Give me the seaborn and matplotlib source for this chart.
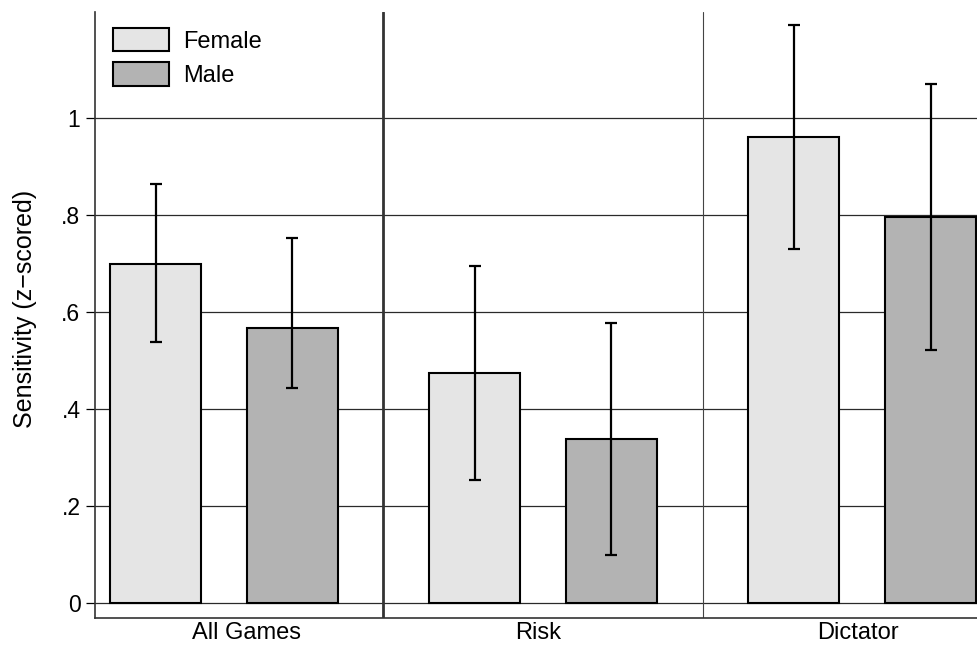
import numpy as np
import pandas as pd
import matplotlib
matplotlib.use("Agg")
import matplotlib.pyplot as plt
import seaborn as sns

# Mean sensitivity (z-scored) by game and sex, with 95% CI bounds
games = ["All Games", "Risk", "Dictator"]
sexes = ["Female", "Male"]
female_mean = [0.700, 0.475, 0.961]
female_lo = [0.538, 0.255, 0.731]
female_hi = [0.865, 0.696, 1.192]
male_mean = [0.568, 0.339, 0.796]
male_lo = [0.443, 0.100, 0.523]
male_hi = [0.753, 0.579, 1.070]
yticks = [0, 0.2, 0.4, 0.6, 0.8, 1.0]
ytick_labels = ["0", ".2", ".4", ".6", ".8", "1"]

# Layout of the bars along the x axis (in bar-width units)
group_step = 3.5
sex_offset = {"Female": 0.0, "Male": 1.5}

rows = []
for g, game in enumerate(games):
    for sex, m, lo, hi in (("Female", female_mean[g], female_lo[g], female_hi[g]),
                           ("Male", male_mean[g], male_lo[g], male_hi[g])):
        rows.append({"game": game, "sex": sex, "mean": m, "lo": lo, "hi": hi,
                     "pos": g * group_step + sex_offset[sex]})
df = pd.DataFrame(rows)

sns.set_theme(style="white")
plt.rcParams["font.family"] = ["Liberation Sans", "DejaVu Sans"]
plt.rcParams["text.color"] = "black"
plt.rcParams["axes.labelcolor"] = "black"

fig = plt.figure(figsize=(9.78, 6.45), dpi=100)
W, H = 978, 645
ax_left, ax_right, ax_top, ax_bottom = 95, 978, 11.7, 618
ax = fig.add_axes([ax_left / W, 1 - ax_bottom / H,
                   (ax_right - ax_left) / W, (ax_bottom - ax_top) / H])

palette = {"Female": "#e5e5e5", "Male": "#b3b3b3"}
sns.barplot(data=df, x="pos", y="mean", hue="sex", hue_order=sexes,
            palette=palette, native_scale=True, dodge=False,
            width=1 / 1.5, errorbar=None, edgecolor="black", linewidth=1.5,
            saturation=1, ax=ax, zorder=3)

ax.errorbar(df["pos"], df["mean"],
            yerr=[df["mean"] - df["lo"], df["hi"] - df["mean"]],
            fmt="none", ecolor="black", elinewidth=1.6, capsize=4.5,
            capthick=1.6, zorder=4)

ax.set_xlim(-0.664, 9.02)
ax.set_ylim(-0.0303, 1.22)

# Horizontal grid and group separators
ax.set_yticks(yticks)
ax.set_yticklabels(ytick_labels)
for y in yticks:
    ax.axhline(y, color="#2a2a2a", lw=0.9, zorder=1)
ax.axvline(2.5, color="#333333", lw=2.0, zorder=2)
ax.axvline(6.0, color="#444444", lw=0.8, zorder=2)

ax.set_xticks([1.0, 4.2, 7.7])
ax.set_xticklabels(games)
ax.tick_params(axis="x", length=0, pad=3, labelsize=17, colors="black")
ax.tick_params(axis="y", length=6.5, width=0.9, pad=4, labelsize=16.5,
               colors="black", left=True)
ax.set_xlabel("")
ax.set_ylabel("Sensitivity (z\u2212scored)", fontsize=18, va="center",
              color="black")
ax.yaxis.set_label_coords(25 / W, 1 - 309 / H, transform=fig.transFigure)

for side in ("top", "right"):
    ax.spines[side].set_visible(False)
for side in ("left", "bottom"):
    ax.spines[side].set_color("#333333")
    ax.spines[side].set_linewidth(1.2)

handles, labels = ax.get_legend_handles_labels()
leg = ax.legend(handles, labels, loc="upper left",
                bbox_to_anchor=(113 / W, 1 - 28 / H),
                bbox_transform=fig.transFigure, frameon=False, fontsize=17,
                handlelength=2.37, handleheight=1.15, handletextpad=0.6,
                labelspacing=0.4, borderpad=0, borderaxespad=0,
                labelcolor="black")

fig.savefig("out.png", dpi=100)
